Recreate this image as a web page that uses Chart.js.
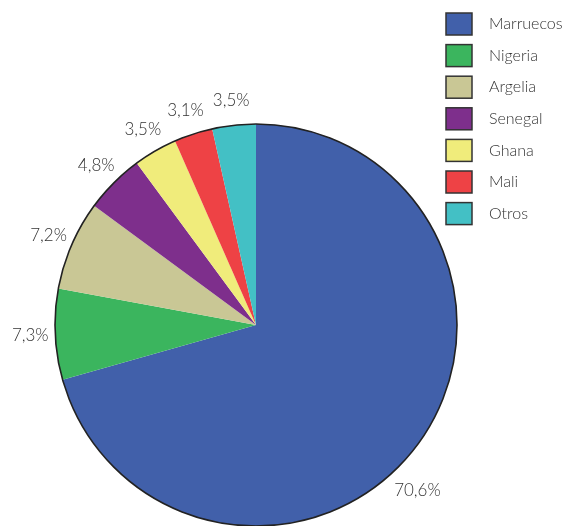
<!DOCTYPE html>
<html>
<head>
<meta charset="utf-8">
<script src="https://cdn.jsdelivr.net/npm/chart.js@4"></script>
<style>
  html, body { margin: 0; padding: 0; background: #fff; }
  #wrap { width: 566px; height: 526px; }
</style>
</head>
<body>
<div id="wrap"><canvas id="pie" width="566" height="526"></canvas></div>
<script>
const paises = ["Marruecos", "Nigeria", "Argelia", "Senegal", "Ghana", "Mali", "Otros"];
const porcentajes = [70.6, 7.3, 7.2, 4.8, 3.5, 3.1, 3.5];
const colores = ["#4160aa", "#3bb55e", "#c9c795", "#7e2f8c", "#f0ec7b", "#ee4245", "#43c0c5"];

const FONT = "Lato, 'Open Sans', sans-serif";

// outer circle + percentage labels outside each slice
const etiquetas = {
  id: "etiquetas",
  afterDatasetsDraw(chart) {
    const ctx = chart.ctx;
    const arcs = chart.getDatasetMeta(0).data;
    const a0 = arcs[0];
    ctx.save();
    ctx.beginPath();
    ctx.arc(a0.x, a0.y, a0.outerRadius, 0, Math.PI * 2);
    ctx.lineWidth = 1.6;
    ctx.strokeStyle = "#222";
    ctx.stroke();

    ctx.font = "300 17px " + FONT;
    ctx.fillStyle = "#333";
    ctx.textAlign = "center";
    ctx.textBaseline = "middle";
    arcs.forEach((arc, i) => {
      let mid = (arc.startAngle + arc.endAngle) / 2;
      // the big slice's label sits a bit lower in the original
      if (i === 0) mid += 0.15;
      const r = arc.outerRadius + (i === 0 ? 30 : 25);
      const txt = porcentajes[i].toFixed(1).replace(".", ",") + "%";
      ctx.fillText(txt, arc.x + Math.cos(mid) * r, arc.y + Math.sin(mid) * r);
    });
    ctx.restore();
  }
};

// legend at the top right
const leyenda = {
  id: "leyenda",
  afterDraw(chart) {
    const ctx = chart.ctx;
    ctx.save();
    ctx.font = "300 16px " + FONT;
    ctx.textBaseline = "middle";
    ctx.textAlign = "left";
    chart.data.labels.forEach((lab, i) => {
      const y = 13 + i * 31.6;
      ctx.fillStyle = colores[i];
      ctx.fillRect(446, y, 26, 22);
      ctx.lineWidth = 1.5;
      ctx.strokeStyle = "#333";
      ctx.strokeRect(446, y, 26, 22);
      ctx.fillStyle = "#333";
      ctx.fillText(lab, 489, y + 11);
    });
    ctx.restore();
  }
};

new Chart(document.getElementById("pie").getContext("2d"), {
  type: "pie",
  data: {
    labels: paises,
    datasets: [{
      data: porcentajes,
      backgroundColor: colores,
      borderWidth: 0
    }]
  },
  options: {
    responsive: false,
    animation: false,
    layout: { padding: { left: 55, right: 109, top: 124, bottom: 0 } },
    plugins: {
      legend: { display: false },
      tooltip: { enabled: false }
    }
  },
  plugins: [etiquetas, leyenda]
});
</script>
</body>
</html>
